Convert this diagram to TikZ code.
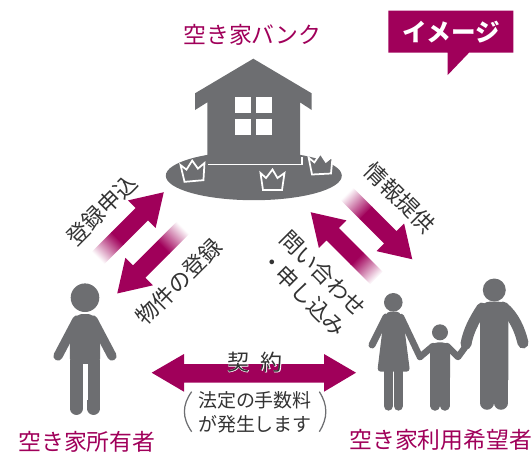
\documentclass[tikz,border=0pt]{standalone}
\usepackage{fontspec}
\setmainfont{Noto Sans CJK JP}
\newfontfamily\halofont[FakeBold=3]{Noto Sans CJK JP}
\definecolor{brand}{HTML}{A0005A}
\definecolor{figgray}{HTML}{6D6E71}
\definecolor{ink}{HTML}{333333}
\tikzset{
  title/.style={text=brand,font=\fontsize{13}{15}\selectfont,inner sep=0pt},
  caption/.style={text=ink,font=\fontsize{12.6}{16}\selectfont,inner sep=0pt,align=left},
  note/.style={text=ink,font=\fontsize{10.8}{13.2}\selectfont,inner sep=0pt,align=left},
  limb/.style={draw=figgray,line cap=round,line join=round,line width=#1*0.02cm},
  pics/crown/.style={code={
    \draw[fill=figgray,draw=white,line width=0.035cm,line join=miter]
      (-9.5,0) -- (-12,-17) -- (-6.5,-12) -- (0,-20.5) -- (5,-12) -- (12,-17) -- (9.5,0) -- cycle;
  }}
}
\newcommand{\fadearrow}[3]{%
  \begin{scope}[transform canvas={shift={(#1,#2)},rotate=#3}]
    \shade[left color=white,right color=brand] (0,-8.8) rectangle (28,8.8);
    \fill[brand] (27.5,-8.8) -- (62,-8.8) -- (62,-19.5) -- (93,0) -- (62,19.5) -- (62,8.8) -- (27.5,8.8) -- cycle;
  \end{scope}}
\newcommand{\halo}[1]{\rlap{\color{white}\halofont #1}#1}
\begin{document}
\begin{tikzpicture}[x=0.02cm,y=-0.02cm]
\useasboundingbox (0,0) rectangle (532,451);
% house on its ground
\fill[figgray] (253.8,175.7) ellipse (88 and 24.5);
\fill[figgray] (253.3,58.7) -- (311.7,93.3) -- (311.7,110) -- (300,102.3) -- (300,162.3)
  -- (207.3,162.3) -- (207.3,102.3) -- (195,110) -- (195,93.3) -- cycle;
\foreach \x in {235,255.7} \foreach \y in {97.3,119}
  \fill[white] (\x,\y) rectangle +(16,16);
\draw[white,line width=0.035cm] (208,164.5) -- (302,164.5) -- (302,157);
\pic[rotate=5] at (194,181) {crown};
\pic at (272.5,190) {crown};
\pic[rotate=3] at (321.5,174) {crown};
\node[title] (bank) at (252.5,35) {空き家バンク};
% image tag
\fill[brand] (388.3,10.7) -- (513.3,10.7) -- (513.3,52.7) -- (469,52.7) -- (447.7,75) -- (447.7,52.7) -- (388.3,52.7) -- cycle;
\node[text=white,font=\fontsize{14}{16}\selectfont\bfseries,inner sep=0pt] (tag) at (451,31.7) {イメージ};
% arrows
\fadearrow{98}{258}{45}
\fadearrow{183}{227.7}{-135}
\fadearrow{346.5}{193.5}{-45}
\fadearrow{376.5}{278}{135}
\fill[brand] (151.7,372.7) -- (184,354) -- (184,364) -- (324,364) -- (324,354) -- (356,372.7)
  -- (324,391.7) -- (324,382.7) -- (184,382.7) -- (184,391.7) -- cycle;
\node[caption,rotate=45] (toroku) at (101.7,210) {登録申込};
\node[caption,rotate=45] (bukken) at (179,281.7) {物件の登録};
\node[caption,rotate=-45] (joho) at (400,198) {情報提供};
\node[caption,rotate=-45] (toi) at (313.3,283.5) {問い合わせ\\・申し込み};
\node[text=ink,font=\fontsize{12.5}{14}\selectfont,inner sep=0pt] (kei) at (238.3,362) {\halo{契}};
\node[text=ink,font=\fontsize{12.5}{14}\selectfont,inner sep=0pt] (yaku) at (271.7,362) {\halo{約}};
\node[note] (fee) at (255,412.3) {法定の手数料\\が発生します};
\draw[figgray,line width=0.025cm] (191.7,391.7) .. controls (182,405) and (182,418) .. (191.7,431.7);
\draw[figgray,line width=0.025cm] (319.3,391.7) .. controls (328,405) and (328,418) .. (319.3,431.7);
% owner
\fill[figgray] (85,297.7) circle (14.3);
\fill[figgray,rounded corners=3] (70,364.3) -- (70,330) -- (77,314) -- (93,314) -- (100,330) -- (100,364.3) -- cycle;
\fill[figgray] (70,360) rectangle (100,372);
\draw[limb=9.3] (77,320) -- (58,356);
\draw[limb=9.3] (93,320) -- (112,356);
\draw[limb=12.7] (76.4,366) -- (76.4,408.6);
\draw[limb=12.7] (93.6,366) -- (93.6,408.6);
\fill[white] (82.9,364.3) rectangle (88.1,400);
\node[title] (owner) at (87,441.5) {空き家所有者};
% family
\fill[figgray] (494.3,290) circle (11.5);
\fill[figgray] (440,332.3) circle (8);
\fill[figgray] (393.3,302.3) circle (9.3);
\fill[figgray,rounded corners=3] (480,385) -- (480,310) -- (484,301.7) -- (504,301.7) -- (508.3,310) -- (508.3,385) -- cycle;
\draw[limb=11] (482,308) .. controls (474,320) and (468,332) .. (466,344);
\draw[limb=11] (503,307) .. controls (514,316) and (520,330) .. (523,343);
\draw[limb=13.5] (487,375) -- (487,403);
\draw[limb=13.5] (501,375) -- (501,403);
\fill[figgray,rounded corners=2.5] (430,382) -- (430,346) -- (434,342.3) -- (446,342.3) -- (450,346) -- (450,382) -- cycle;
\draw[limb=6.5] (433,346) -- (420,357);
\draw[limb=6.5] (447,346) -- (458,357) -- (466,346);
\draw[limb=9.5] (435.2,378) -- (435.2,406);
\draw[limb=9.5] (444.8,378) -- (444.8,406);
\fill[figgray,rounded corners=2] (386.7,311.7) -- (400,311.7) -- (404,325) -- (410,371.7) -- (377.3,371.7) -- (383,325) -- cycle;
\draw[limb=7] (386,317) -- (372,345);
\draw[limb=6.5] (401,317) -- (420,357);
\draw[limb=9.3] (388.4,370) -- (388.4,406);
\draw[limb=9.3] (398.4,370) -- (398.4,406);
\node[title] (family) at (440.8,440) {空き家利用希望者};
\end{tikzpicture}
\end{document}
